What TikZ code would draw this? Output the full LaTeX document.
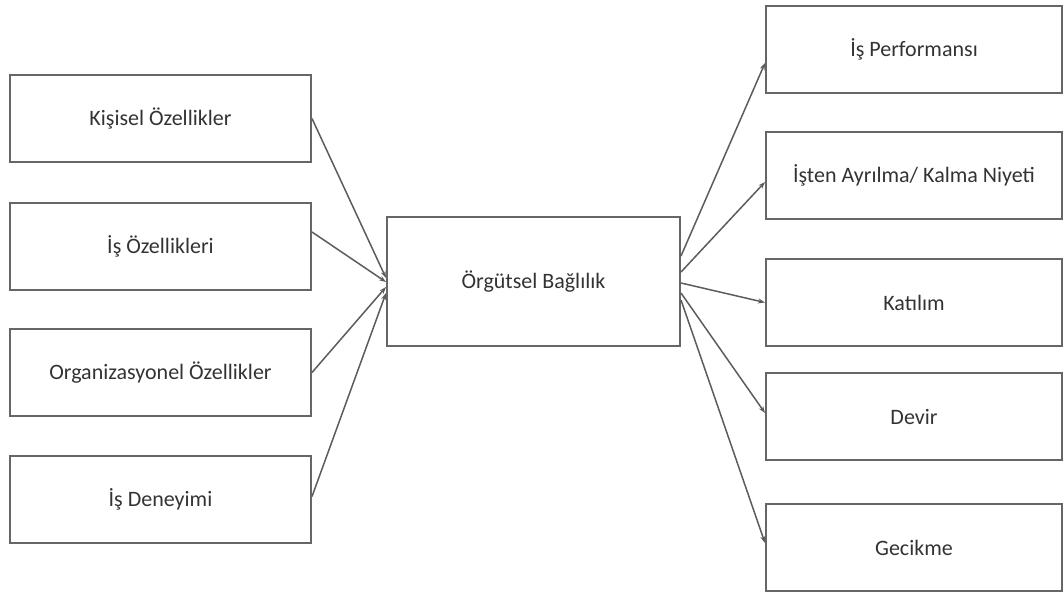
\documentclass[tikz,border=0pt]{standalone}
\usepackage{fontspec}
\setmainfont{Carlito}
\usetikzlibrary{arrows.meta}
\definecolor{boxgray}{HTML}{666666}
\definecolor{txtgray}{HTML}{333333}
\begin{document}
\begin{tikzpicture}[x=1pt,y=-1pt,
    kutu/.style={draw=boxgray,line width=2pt,text=txtgray,font=\fontsize{22}{26}\selectfont},
    sol/.style={kutu,minimum width=301pt,minimum height=87pt},
    sag/.style={kutu,minimum width=296pt,minimum height=87pt}]
  \useasboundingbox (0,0) rectangle (1063,595);
  \draw
    (160.5,118.5) node[sol] (kisi){Kişisel Özellikler}
    (160.5,246) node[sol] (isoz){İş Özellikleri}
    (160.5,372.5) node[sol] (org){Organizasyonel Özellikler}
    (160.5,499.5) node[sol] (den){İş Deneyimi}
    (533.5,281.5) node[kutu,minimum width=293pt,minimum height=129pt] (bag){Örgütsel Bağlılık}
    (914,49.5) node[sag] (perf){İş Performansı}
    (914,175) node[sag] (ayr){İşten Ayrılma/ Kalma Niyeti}
    (914,302.5) node[sag] (kat){Katılım}
    (914,416.5) node[sag] (dev){Devir}
    (914,547.5) node[sag] (gec){Gecikme};
  \begin{scope}[draw=boxgray!90!black,line width=1.5pt,-{Stealth[length=7pt,width=5pt]}]
    \draw (kisi.east) to ([yshift=3.5pt]bag.west);
    \draw ([yshift=14pt]isoz.east) to ([yshift=-0.5pt]bag.west);
    \draw (org.east) to ([yshift=-5.5pt]bag.west);
    \draw ([yshift=3pt]den.east) to ([yshift=-11.5pt]bag.west);
    \draw ([yshift=25.5pt]bag.east) to ([yshift=-13.5pt]perf.west);
    \draw ([yshift=9.5pt]bag.east) to ([yshift=-7pt]ayr.west);
    \draw ([yshift=-1.5pt]bag.east) to (kat.west);
    \draw ([yshift=-11.5pt]bag.east) to ([yshift=3.5pt]dev.west);
    \draw ([yshift=-18.5pt]bag.east) to ([yshift=4.5pt]gec.west);
  \end{scope}
\end{tikzpicture}
\end{document}
